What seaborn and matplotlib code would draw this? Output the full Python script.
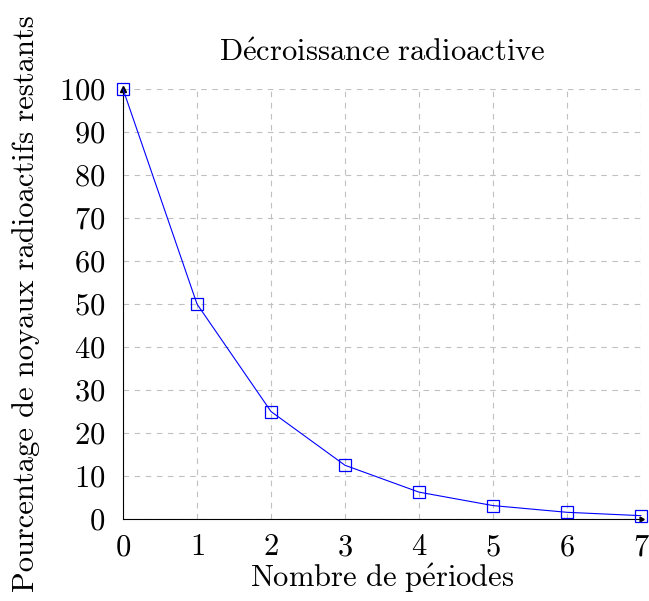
import numpy as np
import pandas as pd
import matplotlib
matplotlib.use("Agg")
import matplotlib.pyplot as plt
import seaborn as sns

# data
periodes = [0, 1, 2, 3, 4, 5, 6, 7]
pourcentages = [100, 50, 25, 12.5, 6.25, 3.125, 1.5625, 0.78125]

sns.set_style("white")
plt.rcParams['font.family'] = ['cmr10', 'DejaVu Serif']
plt.rcParams['mathtext.fontset'] = 'cm'
plt.rcParams['axes.unicode_minus'] = False
plt.rcParams['axes.formatter.use_mathtext'] = True
plt.rcParams['text.color'] = 'black'
plt.rcParams['axes.labelcolor'] = 'black'
plt.rcParams['xtick.labelcolor'] = 'black'
plt.rcParams['ytick.labelcolor'] = 'black'

df = pd.DataFrame({'periode': periodes, 'pct': pourcentages})

fig = plt.figure(figsize=(6.49, 6.01), dpi=100)
ax = fig.add_axes([0.1895, 0.1364, 0.7982, 0.7155])

sns.lineplot(data=df, x='periode', y='pct', ax=ax, color='blue', linewidth=0.8,
             marker='s', markersize=8.5, markerfacecolor='none',
             markeredgecolor='blue', markeredgewidth=0.9, clip_on=False, zorder=5)

ax.set_xlim(0, 7)
ax.set_ylim(0, 100)
ax.set_xticks(range(0, 8))
ax.set_yticks(range(0, 101, 10))
ax.grid(True, linestyle=(0, (5, 5)), color='#c0c0c0', linewidth=0.8)
ax.set_axisbelow(True)

for s in ['top', 'right']:
    ax.spines[s].set_visible(False)
for s in ['left', 'bottom']:
    ax.spines[s].set_color('black')
    ax.spines[s].set_linewidth(0.8)

# arrow heads at the end of the axes
ax.plot(1, 0, marker=(3, 0, -90), color='black', markersize=4,
        transform=ax.get_yaxis_transform(), clip_on=False)
ax.plot(0, 1, marker='^', color='black', markersize=4,
        transform=ax.get_xaxis_transform(), clip_on=False)

ax.tick_params(direction='inout', length=7, width=0.8, color='#808080',
               labelsize=22)
ax.tick_params(axis='y', pad=9)
ax.tick_params(axis='x', pad=7)

ax.set_title(r'$\mathrm{D\acute{e}croissance\ radioactive}$', fontsize=22, pad=20)
ax.set_xlabel(r'$\mathrm{Nombre\ de\ p\acute{e}riodes}$', fontsize=22, labelpad=0)
ax.set_ylabel('Pourcentage de noyaux radioactifs restants', fontsize=22, labelpad=14)

fig.savefig('out.png', dpi=100)
